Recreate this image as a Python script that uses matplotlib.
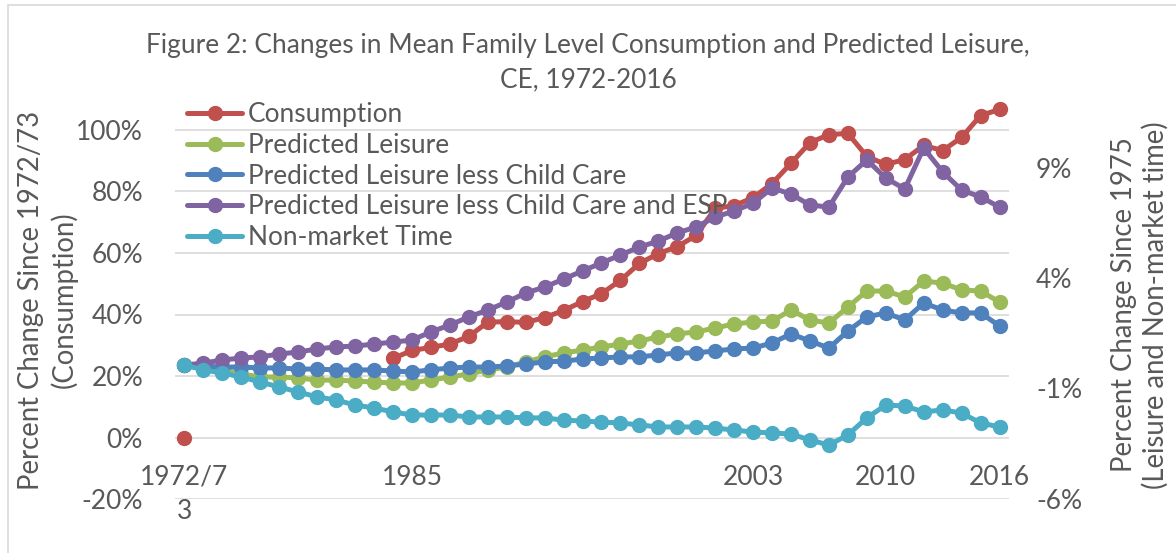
import matplotlib
matplotlib.use("Agg")
import matplotlib.pyplot as plt
import matplotlib.transforms as mtransforms
from matplotlib.patches import Rectangle
import numpy as np

plt.rcParams['font.family'] = ['Lato', 'DejaVu Sans']

# ---------------- data ----------------
categories = ["1972/73"] + [str(y) for y in range(1974, 2017)]
tick_labels = {0: "1972/7\n3", 12: "1985", 30: "2003", 37: "2010", 43: "2016"}

consumption = [0.0] + [np.nan] * 10 + [
    25.7, 28.3, 29.3, 30.4, 32.9, 37.5, 37.7, 37.4, 39.0, 41.3,
    44.2, 46.8, 51.1, 56.6, 59.8, 62.1, 65.7, 74.5, 75.4, 78.0,
    82.6, 89.2, 95.9, 98.5, 98.9, 91.4, 88.8, 90.4, 95.0, 93.3,
    97.6, 104.7, 106.7]

pred_leisure = [
    0.06, -0.03, -0.16, -0.34, -0.48, -0.48, -0.52, -0.62, -0.62, -0.66,
    -0.71, -0.75, -0.75, -0.62, -0.48, -0.34, -0.16, -0.03, 0.20, 0.43,
    0.61, 0.74, 0.88, 1.01, 1.15, 1.33, 1.47, 1.56, 1.74, 1.92,
    2.01, 2.05, 2.55, 2.10, 1.96, 2.69, 3.41, 3.41, 3.14, 3.86,
    3.77, 3.46, 3.41, 2.91]

pred_leisure_less_cc = [
    0.06, 0.02, -0.03, -0.03, -0.07, -0.07, -0.12, -0.12, -0.16, -0.16,
    -0.16, -0.21, -0.25, -0.16, -0.07, -0.03, -0.03, 0.02, 0.11, 0.20,
    0.24, 0.33, 0.38, 0.43, 0.43, 0.52, 0.61, 0.61, 0.70, 0.79,
    0.83, 1.06, 1.47, 1.15, 0.83, 1.60, 2.24, 2.42, 2.10, 2.87,
    2.55, 2.42, 2.42, 1.83]

pred_leisure_less_cc_esp = [
    0.06, 0.15, 0.29, 0.38, 0.43, 0.56, 0.65, 0.79, 0.88, 0.92,
    1.01, 1.10, 1.19, 1.56, 1.87, 2.24, 2.55, 2.91, 3.32, 3.59,
    3.95, 4.32, 4.68, 5.04, 5.40, 5.67, 6.04, 6.31, 6.76, 7.03,
    7.39, 8.07, 7.80, 7.30, 7.21, 8.57, 9.34, 8.52, 8.03, 9.88,
    8.80, 7.98, 7.67, 7.21]

non_market_time = [
    0.06, -0.16, -0.30, -0.48, -0.71, -0.93, -1.16, -1.38, -1.52, -1.75,
    -1.88, -2.06, -2.20, -2.20, -2.20, -2.29, -2.29, -2.29, -2.33, -2.33,
    -2.43, -2.47, -2.52, -2.56, -2.65, -2.74, -2.74, -2.74, -2.79, -2.88,
    -2.97, -3.01, -3.06, -3.33, -3.56, -3.10, -2.33, -1.75, -1.79, -2.06,
    -1.97, -2.11, -2.56, -2.74]

left_ticks = [-20, 0, 20, 40, 60, 80, 100]
left_tick_labels = ["-20%", "0%", "20%", "40%", "60%", "80%", "100%"]
right_ticks = [-6, -1, 4, 9]
right_tick_labels = ["-6%", "-1%", "4%", "9%"]

series_names = ["Consumption", "Predicted Leisure", "Predicted Leisure less Child Care",
                "Predicted Leisure less Child Care and ESP", "Non-market Time"]
colors = ["#C0504D", "#9BBB59", "#4F81BD", "#8064A2", "#4BACC6"]

title = "Figure 2: Changes in Mean Family Level Consumption and Predicted Leisure,\nCE, 1972-2016"
left_label = "Percent Change Since 1972/73\n(Consumption)"
right_label = "Percent Change Since 1975\n(Leisure and Non-market time)"

# ---------------- figure ----------------
W, H = 1176, 553
fig = plt.figure(figsize=(W / 100, H / 100), dpi=100)
fig.patch.set_facecolor("white")
fig.patches.append(Rectangle((8 / W, -0.1), 1.2, 1.1 - 5 / H, transform=fig.transFigure,
                             fill=False, edgecolor="#D9D9D9", linewidth=1.2))

x0, x1 = 175, 1009
ytop, ybot = 57, 499
ax = fig.add_axes([x0 / W, 1 - ybot / H, (x1 - x0) / W, (ybot - ytop) / H])
ax.set_facecolor("none")
ax2 = ax.twinx()

x = np.arange(len(categories))
txt = "#595959"
fs_tick = 19
fs_lab = 19.8
lw = 3.6
ms = 10

l0, = ax.plot(x, consumption, color=colors[0], lw=lw, marker="o", ms=ms,
              solid_capstyle="round", label=series_names[0])
handles = [l0]
for vals, c, n in zip([pred_leisure, pred_leisure_less_cc, pred_leisure_less_cc_esp, non_market_time],
                      colors[1:], series_names[1:]):
    h, = ax2.plot(x, vals, color=c, lw=lw, marker="o", ms=ms, solid_capstyle="round", label=n)
    handles.append(h)

ax.set_xlim(-0.5, len(categories) - 0.5)
ax.set_ylim(-20, -20 + (ybot - ytop) / 3.075)
ax2.set_ylim(-6, 14)

ax.set_yticks(left_ticks)
ax.set_yticklabels(left_tick_labels)
ax2.set_yticks(right_ticks)
ax2.set_yticklabels(right_tick_labels)
ax.tick_params(axis="y", length=0, pad=23, labelsize=fs_tick, labelcolor=txt)
ax2.tick_params(axis="y", length=0, pad=19.5, labelsize=fs_tick, labelcolor=txt)
ax.set_xticks([])
ax2.set_xticks([])
ax.yaxis.grid(True, color="#D9D9D9", linewidth=1.2)
ax.set_axisbelow(True)
for a in (ax, ax2):
    for s in a.spines.values():
        s.set_visible(False)

trans = mtransforms.blended_transform_factory(ax.transData, ax.transAxes)
for pos, lab in tick_labels.items():
    ax.text(pos, (ybot - 465) / (ybot - ytop), lab, transform=trans, ha="center", va="top",
            fontsize=fs_tick, color=txt, linespacing=1.45, multialignment="center")

fig.text(0.5, 1 - 62.5 / H, title, ha="center", va="center", fontsize=18.9, color=txt,
         linespacing=1.45)

fig.text(48 / W, 1 - 300 / H, left_label, rotation=90, ha="center", va="center",
         fontsize=fs_lab, color=txt, linespacing=1.25)
fig.text(1140 / W, 1 - 305 / H, right_label, rotation=90, ha="center", va="center",
         fontsize=fs_lab, color=txt, linespacing=1.25)

leg = ax2.legend(handles=handles, loc="upper left",
                 bbox_to_anchor=(187 / W, 1 - 102 / H), bbox_transform=fig.transFigure,
                 frameon=False, fontsize=18.9, labelcolor=txt, handlelength=2.1,
                 handletextpad=0.22, labelspacing=0.22, borderpad=0, borderaxespad=0)

fig.savefig("out.png", dpi=100)
